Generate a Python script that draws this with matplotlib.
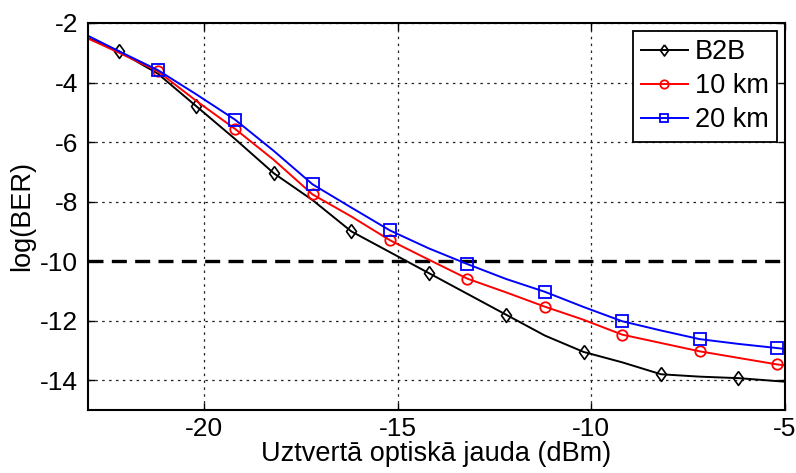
import matplotlib
matplotlib.use('Agg')
import matplotlib.pyplot as plt

plt.rcParams['font.family'] = ['Liberation Sans', 'DejaVu Sans']
plt.rcParams['axes.unicode_minus'] = False

# jauda (dBm), solis 1 dB, pēdējais punkts - pie ass malas
x = [-23.2, -22.2, -21.2, -20.2, -19.2, -18.2, -17.2, -16.2, -15.2, -14.2,
     -13.2, -12.2, -11.2, -10.2, -9.2, -8.2, -7.2, -6.2, -5.2, -5.0]

b2b = [-2.4, -2.95, -3.7, -4.8, -5.9, -7.05, -7.95, -9.0, -9.7, -10.4,
       -11.1, -11.8, -12.5, -13.05, -13.4, -13.8, -13.88, -13.93, -14.03, -14.05]
km10 = [-2.4, -3.0, -3.62, -4.62, -5.56, -6.6, -7.76, -8.5, -9.3, -9.95,
        -10.59, -11.05, -11.53, -11.97, -12.47, -12.75, -13.03, -13.25, -13.47, -13.5]
km20 = [-2.3, -2.95, -3.58, -4.4, -5.25, -6.3, -7.42, -8.2, -8.97, -9.57,
        -10.1, -10.6, -11.03, -11.54, -12.02, -12.33, -12.62, -12.78, -12.92, -12.95]

labels = ['B2B', '10 km', '20 km']
threshold = -10

# dimants kā MATLAB 'd'
diamond = [(0, 1), (0.72, 0), (0, -1), (-0.72, 0), (0, 1)]

fig = plt.figure(figsize=(7.96, 4.73), dpi=100)
ax = fig.add_axes([0.1106, 0.1332, 0.8755, 0.8182])

ax.plot(x, b2b, color='black', lw=1.4, marker=diamond, ms=10, mfc='none', mew=1.2,
        markevery=slice(1, 19, 2), label=labels[0], zorder=4)
ax.plot(x, km10, color='red', lw=1.4, marker='o', ms=7.5, mfc='none', mew=1.3,
        markevery=slice(2, 19, 2), label=labels[1], zorder=4)
ax.plot(x, km20, color='blue', lw=1.4, marker='s', ms=8, mfc='none', mew=1.3,
        markevery=slice(2, 19, 2), label=labels[2], zorder=4)

ax.axhline(threshold, color='white', lw=2.6, zorder=2)
ax.axhline(threshold, color='black', lw=2.4, dashes=(4.5, 2.5), zorder=3)

ax.set_xlim(-23, -5)
ax.set_ylim(-15, -2)
ax.set_xticks([-20, -15, -10, -5])
ax.set_yticks([-14, -12, -10, -8, -6, -4, -2])
ax.set_axisbelow(True)
ax.grid(True, color='#222222', lw=0.9, linestyle=(0, (2, 3.5)))
ax.tick_params(direction='in', length=5, width=1, top=True, right=True,
               labelsize=19, pad=7)
ax.tick_params(axis='x', pad=5)
for s in ax.spines.values():
    s.set_linewidth(1.5)
    s.set_zorder(5)

ax.set_xlabel('Uztvertā optiskā jauda (dBm)', fontsize=19.5, labelpad=0)
ax.set_ylabel('log(BER)', fontsize=19.5, labelpad=4)

leg = ax.legend(loc='upper right', fontsize=19.5, fancybox=False, framealpha=1,
                edgecolor='black', borderaxespad=0.3, handlelength=1.75,
                handletextpad=0.25, labelspacing=0.3, borderpad=0.3,
                markerscale=0.8)
leg.get_frame().set_linewidth(1.3)
leg.set_zorder(6)

fig.savefig('out.png', dpi=100)
